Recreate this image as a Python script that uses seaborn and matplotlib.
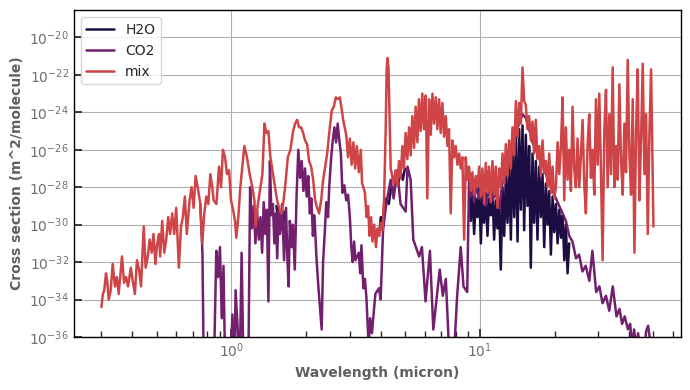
import numpy as np
import pandas as pd
import seaborn as sns
import matplotlib.pyplot as plt

# wavelengths in micron, cross sections as log10(m^2/molecule)
mix_wl = [0.300, 0.304, 0.308, 0.313, 0.317, 0.321, 0.327, 0.333, 0.340, 0.346,
          0.352, 0.359, 0.363, 0.370, 0.377, 0.384, 0.394, 0.401, 0.409, 0.417,
          0.425, 0.433, 0.444, 0.452, 0.461, 0.469, 0.478, 0.486, 0.495, 0.501,
          0.511, 0.517, 0.527, 0.537, 0.547, 0.557, 0.567, 0.578, 0.589, 0.600,
          0.615, 0.627, 0.638, 0.650, 0.662, 0.679, 0.692, 0.705, 0.718, 0.732,
          0.750, 0.764, 0.778, 0.793, 0.808, 0.823, 0.838, 0.849, 0.871, 0.892,
          0.909, 0.925, 0.943, 0.961, 0.979, 0.997, 1.016, 1.035, 1.047, 1.067,
          1.087, 1.107, 1.128, 1.156, 1.185, 1.215, 1.238, 1.253, 1.276, 1.300,
          1.334, 1.359, 1.384, 1.410, 1.436, 1.463, 1.490, 1.528, 1.557, 1.586,
          1.616, 1.646, 1.688, 1.729, 1.773, 1.806, 1.840, 1.874, 1.909, 1.945,
          1.981, 2.018, 2.056, 2.095, 2.134, 2.174, 2.215, 2.256, 2.299, 2.342,
          2.386, 2.431, 2.491, 2.538, 2.585, 2.634, 2.684, 2.734, 2.786, 2.819,
          2.90, 2.95, 3.00, 3.05, 3.10, 3.15, 3.20, 3.26, 3.32, 3.36,
          3.40, 3.45, 3.50, 3.55, 3.60, 3.65, 3.70, 3.76, 3.82, 3.88,
          3.94, 4.00, 4.06, 4.12, 4.18, 4.22, 4.25, 4.29, 4.33, 4.38,
          4.44, 4.51, 4.58, 4.66, 4.73, 4.80, 4.88, 4.95, 5.03, 5.11,
          5.19, 5.27, 5.35, 5.44, 5.52, 5.61, 5.69, 5.78, 5.87, 5.96,
          6.06, 6.15, 6.25, 6.35, 6.45, 6.55, 6.65, 6.75, 6.86, 6.96,
          7.07, 7.18, 7.30, 7.41, 7.52, 7.64, 7.76, 7.88, 8.00, 8.13,
          8.26, 8.38, 8.51, 8.65, 8.78, 8.92, 9.06, 9.20, 9.34, 9.49,
          9.64, 9.79, 9.94, 10.10, 10.25, 10.41, 10.57, 10.74, 10.90, 11.07,
          11.25, 11.42, 11.60, 11.78, 11.97, 12.15, 12.35, 12.54, 12.73, 12.93,
          13.13, 13.34, 13.54, 13.76, 13.97, 14.19, 14.41, 14.63, 14.86, 15.09,
          15.32, 15.56, 15.80, 16.05, 16.30, 16.55, 16.81, 17.07, 17.34, 17.61,
          17.89, 18.17, 18.45, 18.74, 19.03, 19.33, 19.64, 19.94, 20.25, 20.57,
          20.89, 21.22, 21.54, 21.88, 22.21, 22.56, 22.91, 23.27, 23.63, 24.00,
          24.37, 24.75, 25.14, 25.53, 25.93, 26.33, 26.74, 27.16, 27.58, 28.01,
          28.45, 28.90, 29.35, 29.81, 30.27, 30.75, 31.22, 31.71, 32.21, 32.71,
          33.23, 33.74, 34.27, 34.81, 35.35, 35.90, 36.46, 37.03, 37.61, 38.20,
          38.79, 39.40, 40.01, 40.64, 41.27, 41.92, 42.57, 43.23, 43.91, 44.59,
          45.29, 45.99, 46.71, 47.44, 48.18, 48.93, 49.69, 50.00]
mix_log = [-34.4, -33.7, -33.5, -32.6, -33.1, -34.0, -33.5, -32.1, -33.3, -32.8,
           -33.7, -32.4, -31.7, -33.1, -32.8, -33.3, -32.3, -33.0, -33.7, -31.9,
           -32.4, -33.3, -30.1, -32.3, -31.7, -30.8, -31.5, -30.5, -32.1, -31.2,
           -30.5, -31.7, -29.8, -31.5, -30.8, -29.6, -30.5, -29.4, -30.5, -29.1,
           -32.3, -30.1, -29.6, -28.5, -30.5, -28.7, -28.0, -29.1, -27.4, -28.0,
           -28.9, -31.0, -29.4, -28.5, -28.9, -27.3, -28.0, -28.7, -28.9, -26.9,
           -28.0, -26.0, -26.4, -27.3, -27.1, -28.7, -29.2, -29.8, -30.7, -29.6,
           -28.0, -26.9, -25.8, -26.4, -27.3, -28.0, -28.7, -30.1, -29.0, -28.3,
           -27.3, -24.6, -25.1, -25.0, -26.4, -27.1, -27.8, -28.7, -29.1, -29.4,
           -28.9, -28.0, -26.4, -26.0, -25.0, -24.6, -24.4, -24.8, -24.8, -25.1,
           -25.5, -25.7, -26.6, -26.9, -27.6, -28.7, -29.1, -29.4, -28.7, -27.6,
           -26.9, -26.2, -24.8, -23.9, -23.7, -23.2, -23.3, -23.2, -23.9, -24.4,
           -25.2, -26.4, -25.4, -26.8, -25.6, -27.0, -25.8, -27.2, -26.0, -27.8,
           -28.0, -28.3, -29.6, -29.0, -30.6, -29.6, -30.9, -30.0, -31.2, -30.2,
           -30.6, -29.9, -30.3, -28.6, -25.0, -21.7, -21.1, -21.6, -24.0, -27.0,
           -27.4, -27.8, -27.1, -27.9, -26.6, -27.5, -25.8, -27.0, -25.1, -26.5,
           -24.8, -26.3, -24.2, -25.9, -23.7, -25.6, -23.3, -25.0, -23.0, -24.9,
           -23.1, -28.6, -23.3, -25.2, -23.0, -24.6, -23.2, -24.9, -23.3, -25.1,
           -23.5, -25.3, -24.2, -25.8, -24.9, -29.4, -25.5, -26.4, -25.8, -26.8,
           -26.2, -27.0, -26.4, -30.8, -26.4, -27.6, -26.9, -28.2, -27.2, -28.4,
           -27.4, -28.0, -26.9, -28.5, -27.0, -28.9, -26.7, -28.3, -26.9, -28.8,
           -26.6, -28.4, -26.9, -29.1, -27.0, -28.0, -26.2, -27.8, -25.7, -27.4,
           -25.5, -27.0, -24.8, -26.3, -23.4, -25.3, -23.5, -24.6, -21.6, -23.4,
           -23.6, -24.9, -24.2, -25.5, -24.5, -26.2, -24.4, -26.5, -25.8, -27.4,
           -25.5, -27.2, -26.6, -28.0, -26.2, -28.3, -26.9, -28.6, -28.0, -25.6,
           -27.3, -25.8, -23.2, -28.7, -24.8, -27.6, -26.0, -28.2, -23.7, -27.0,
           -28.0, -25.4, -28.0, -26.3, -24.4, -27.8, -29.4, -25.7, -24.1, -27.5,
           -26.0, -28.4, -23.3, -26.8, -23.0, -27.2, -31.9, -25.0, -22.8, -28.0,
           -24.1, -27.3, -21.6, -28.0, -25.8, -27.6, -22.5, -26.6, -28.4, -24.6,
           -27.2, -21.2, -26.2, -28.4, -23.3, -31.5, -25.0, -21.7, -28.7, -25.4,
           -21.4, -27.3, -24.1, -30.5, -25.1, -21.7, -27.5, -30.1]

co2_wl = [0.750, 0.765, 0.775, 0.800, 0.850, 0.870, 0.885, 0.900, 0.915, 0.930,
          0.945, 0.990, 1.010, 1.030, 1.040, 1.060, 1.080, 1.100, 1.120, 1.170,
          1.190, 1.210, 1.230, 1.250, 1.270, 1.290, 1.310, 1.330, 1.350, 1.370,
          1.390, 1.410, 1.430, 1.450, 1.470, 1.490, 1.510, 1.530, 1.550, 1.570,
          1.600, 1.630, 1.660, 1.680, 1.700, 1.720, 1.750, 1.770, 1.800, 1.830,
          1.860, 1.890, 1.920, 1.950, 1.980, 2.010, 2.040, 2.070, 2.100, 2.130,
          2.160, 2.200, 2.240, 2.280, 2.310, 2.340, 2.380, 2.410, 2.450, 2.480,
          2.520, 2.560, 2.600, 2.640, 2.680, 2.720, 2.760, 2.800, 2.850, 2.900,
          2.950, 3.000, 3.040, 3.080, 3.120, 3.160, 3.260, 3.300, 3.340, 3.400,
          3.450, 3.500, 3.570, 3.620, 3.680, 3.800, 3.930, 3.990, 4.080, 4.200,
          4.380, 4.500, 4.650, 4.800, 5.030, 5.120, 5.270, 5.400, 5.700, 5.850,
          6.050, 6.300, 6.500, 6.900, 7.100, 7.300, 7.600, 7.800, 8.000, 8.100,
          8.380, 8.600, 8.900, 9.060, 9.200, 9.340, 9.490, 9.640, 9.940, 10.25,
          10.57, 10.90, 11.25, 11.60, 11.97, 12.35, 12.73, 13.13, 13.54, 13.97,
          14.41, 14.86, 15.32, 15.80, 16.30, 16.81, 17.34, 17.89, 18.45, 19.03,
          19.64, 20.25, 20.89, 21.54, 22.21, 22.91, 23.60, 24.40, 25.10, 25.90,
          26.70, 27.60, 28.40, 29.40, 30.30, 31.20, 32.20, 33.20, 34.30, 35.50,
          36.50, 37.40, 38.30, 39.50, 40.30, 41.00, 41.80, 42.60, 43.40, 44.20,
          45.90, 46.70, 47.60, 48.50, 49.40, 50.00]
co2_log = [-28.9, -31.5, -38.0, -38.0, -38.0, -31.4, -32.8, -31.2, -35.0, -32.2,
           -38.0, -38.0, -34.8, -38.0, -33.5, -35.5, -38.0, -31.5, -38.0, -38.0,
           -28.0, -30.2, -29.0, -31.0, -29.3, -30.8, -29.6, -31.5, -28.8, -30.5,
           -29.2, -34.1, -26.6, -29.5, -28.9, -31.0, -29.4, -31.8, -29.2, -30.5,
           -28.9, -31.9, -29.1, -31.7, -33.3, -29.8, -31.2, -30.0, -32.4, -28.5,
           -26.0, -27.5, -26.6, -28.2, -27.0, -28.5, -27.4, -29.4, -28.6, -30.6,
           -29.5, -31.7, -33.3, -34.6, -35.6, -32.0, -30.3, -28.8, -29.6, -27.9,
           -26.5, -25.5, -24.8, -25.6, -24.6, -25.5, -26.2, -28.3, -27.9, -28.7,
           -28.4, -29.6, -31.2, -32.0, -30.9, -31.9, -31.5, -32.6, -31.1, -33.4,
           -32.9, -34.0, -36.5, -35.0, -35.8, -33.7, -33.4, -34.0, -30.3, -28.9,
           -27.6, -28.6, -27.1, -28.9, -29.3, -26.9, -27.6, -30.8, -31.7, -31.2,
           -34.1, -31.4, -35.6, -32.4, -33.8, -32.9, -38.0, -38.0, -35.3, -33.9,
           -31.2, -33.3, -33.6, -27.3, -28.5, -27.6, -28.8, -27.9, -28.6, -27.8,
           -29.0, -28.1, -28.7, -28.3, -29.1, -27.7, -27.2, -26.5, -25.8, -25.0,
           -24.6, -24.1, -24.3, -24.9, -25.6, -26.0, -26.4, -26.8, -27.3, -27.7,
           -28.2, -28.6, -29.0, -29.4, -29.8, -30.6, -30.9, -31.8, -31.6, -32.5,
           -32.2, -33.0, -31.4, -33.6, -33.3, -34.2, -33.8, -34.6, -33.3, -34.9,
           -34.5, -35.3, -34.9, -35.6, -35.3, -36.5, -35.6, -36.5, -35.8, -37.0,
           -37.0, -35.7, -35.4, -36.2, -37.0, -37.0]

# H2O only shows through in a few windows, so it is kept as separate pieces
h2o_wl = [1.52, 1.55, 1.58, 1.61, 1.64,
          1.99, 2.02, 2.05,
          3.95, 4.00, 4.05, 4.12, 4.20, 4.30, 4.40, 4.50, 4.60, 4.70, 4.80, 4.90, 5.00,
          9.06, 9.20, 9.34, 9.49, 9.64, 9.79, 9.94, 10.10, 10.25, 10.41,
          10.57, 10.74, 10.90, 11.07, 11.25, 11.42, 11.60, 11.78, 11.97, 12.15,
          12.35, 12.54, 12.73, 12.93, 13.13, 13.34, 13.54, 13.76, 13.97, 14.19,
          14.41, 14.63, 14.86, 15.09, 15.32, 15.56, 15.80, 16.05, 16.30, 16.55,
          16.81, 17.07, 17.34, 17.61, 17.89, 18.17, 18.45, 18.74, 19.03, 19.33,
          19.64, 19.94, 20.25, 20.57, 20.89, 21.22, 21.54, 21.88, 22.21, 22.56, 22.91]
h2o_log = [-29.0, -30.1, -29.4, -30.3, -29.3,
           -27.6, -28.3, -27.9,
           -30.3, -29.6, -30.0, -29.0, -28.6, -28.9, -28.0, -28.3, -27.6, -27.8, -27.2, -27.6, -27.0,
           -27.3, -29.8, -28.2, -30.5, -28.6, -29.6, -28.0, -31.0, -28.4, -29.9,
           -28.3, -30.6, -28.6, -29.5, -28.2, -30.8, -28.7, -30.2, -28.9, -32.4,
           -28.0, -30.6, -27.4, -29.9, -26.8, -30.8, -26.0, -29.6, -25.3, -30.9,
           -24.9, -29.2, -24.7, -30.3, -25.2, -29.0, -25.8, -32.3, -26.2, -29.9,
           -26.6, -30.8, -26.9, -29.6, -27.3, -31.2, -27.8, -30.0, -28.2, -31.6,
           -28.5, -30.4, -28.9, -31.0, -29.2, -30.7, -29.5, -31.9, -30.0, -32.6, -31.0]
h2o_piece = [0] * 5 + [1] * 3 + [2] * 13 + [3] * 61

gases = ["H2O", "CO2", "mix"]
colors = {"H2O": "#1b0c41", "CO2": "#721f6e", "mix": "#cf4446"}

df = pd.concat([
    pd.DataFrame({"wl": h2o_wl, "sigma": 10.0 ** np.array(h2o_log), "gas": "H2O", "piece": h2o_piece}),
    pd.DataFrame({"wl": co2_wl, "sigma": 10.0 ** np.array(co2_log), "gas": "CO2", "piece": 0}),
    pd.DataFrame({"wl": mix_wl, "sigma": 10.0 ** np.array(mix_log), "gas": "mix", "piece": 0}),
], ignore_index=True)

sns.set_theme(style="ticks")
plt.rcParams["font.family"] = ["DejaVu Sans"]

fig, ax = plt.subplots(figsize=(6.9, 3.9), dpi=100)
ax.set_xscale("log")
ax.set_yscale("log")
sns.lineplot(data=df, x="wl", y="sigma", hue="gas", hue_order=gases, palette=colors,
             units="piece", estimator=None, linewidth=1.8, ax=ax)

ax.set_ylim(1e-36, 10 ** -18.54)
ax.set_yticks([10.0 ** k for k in range(-36, -19, 2)])
ax.yaxis.set_minor_locator(plt.NullLocator())
ax.grid(True, which="major", color="#b0b0b0", linewidth=0.8)
ax.tick_params(axis="both", which="both", direction="in", labelcolor="#707070", labelsize=10)
for s in ax.spines.values():
    s.set_color("black")
    s.set_linewidth(1.0)

ax.set_xlabel("Wavelength (micron)", fontweight="bold", color="#606060", fontsize=10)
ax.set_ylabel("Cross section (m^2/molecule)", fontweight="bold", color="#606060", fontsize=10)
sns.move_legend(ax, "upper left", title=None, fontsize=10)

fig.subplots_adjust(left=0.107, right=0.987, top=0.974, bottom=0.136)
fig.savefig("out.png", dpi=100)
